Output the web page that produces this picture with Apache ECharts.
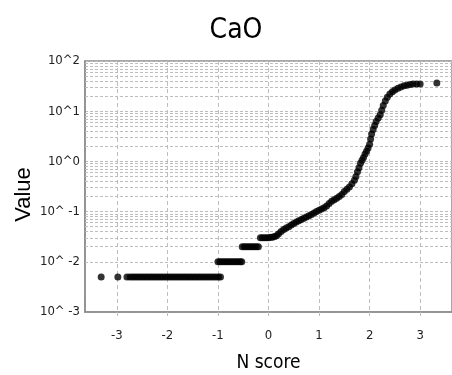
<!DOCTYPE html>
<html>
<head>
<meta charset="utf-8">
<script src="https://cdn.jsdelivr.net/npm/echarts@6/dist/echarts.min.js"></script>
<style>html,body{margin:0;padding:0;background:#fff}#c{width:452px;height:375px}</style>
</head>
<body>
<div id="c"></div>
<script>
// ---- data ----
const titleText = "CaO";
const xName = "N score";
const yName = "Value";
const yTickExponents = [-3, -2, -1, 0, 1, 2];
const yTickLabels = ["10^ -3", "10^ -2", "10^ -1", "10^0", "10^1", "10^2"];
const xTickValues = [-3, -2, -1, 0, 1, 2, 3];

// normal scores (x) and observed values (y)
const nScores = [
  -3.31, -2.98, -2.80,
  -2.74, -2.69, -2.64, -2.59, -2.54, -2.49, -2.44, -2.39, -2.34, -2.29, -2.24, -2.19, -2.14, -2.09,
  -2.04, -1.99, -1.94, -1.89, -1.84, -1.79, -1.74, -1.69, -1.64, -1.59, -1.54, -1.49, -1.44, -1.39,
  -1.34, -1.29, -1.24, -1.19, -1.14, -1.09, -1.04, -0.99, -0.95,
  -1.00, -0.96, -0.92, -0.88, -0.84, -0.80, -0.76, -0.72, -0.68, -0.64, -0.60, -0.56, -0.53,
  -0.52, -0.48, -0.44, -0.40, -0.36, -0.32, -0.28, -0.24, -0.20,
  -0.16, -0.12, -0.08, -0.04, 0.00, 0.04, 0.08, 0.12,
  0.16, 0.20, 0.25, 0.30, 0.35, 0.40, 0.45, 0.50, 0.55, 0.60, 0.65, 0.70, 0.75, 0.80, 0.85, 0.90,
  0.95, 1.00, 1.05, 1.10, 1.15, 1.20, 1.25, 1.30, 1.35, 1.40, 1.45, 1.50, 1.55, 1.60, 1.65, 1.70,
  1.73, 1.76, 1.79, 1.82, 1.85, 1.88, 1.91, 1.94, 1.97, 2.00, 2.02, 2.04, 2.07, 2.10, 2.13, 2.17,
  2.21, 2.24, 2.27, 2.31, 2.35, 2.40, 2.45, 2.50, 2.56, 2.62, 2.68, 2.74, 2.80, 2.86, 2.93, 3.00,
  3.33
];
const values = [
  0.005, 0.005, 0.005,
  0.005, 0.005, 0.005, 0.005, 0.005, 0.005, 0.005, 0.005, 0.005, 0.005, 0.005, 0.005, 0.005, 0.005,
  0.005, 0.005, 0.005, 0.005, 0.005, 0.005, 0.005, 0.005, 0.005, 0.005, 0.005, 0.005, 0.005, 0.005,
  0.005, 0.005, 0.005, 0.005, 0.005, 0.005, 0.005, 0.005, 0.005,
  0.010, 0.010, 0.010, 0.010, 0.010, 0.010, 0.010, 0.010, 0.010, 0.010, 0.010, 0.010, 0.010,
  0.020, 0.020, 0.020, 0.020, 0.020, 0.020, 0.020, 0.020, 0.020,
  0.030, 0.030, 0.030, 0.030, 0.030, 0.031, 0.031, 0.032,
  0.033, 0.036, 0.040, 0.044, 0.047, 0.050, 0.054, 0.058, 0.062, 0.066, 0.070, 0.074, 0.078, 0.083, 0.088, 0.094,
  0.100, 0.106, 0.113, 0.120, 0.130, 0.145, 0.160, 0.172, 0.185, 0.200, 0.220, 0.250, 0.280, 0.310, 0.360, 0.420,
  0.50, 0.62, 0.75, 0.92, 1.05, 1.2, 1.4, 1.6, 1.85, 2.2, 2.8, 3.5, 4.3, 5.2, 6.2, 7.3,
  8.5, 10.5, 13, 16, 19, 22, 24.5, 26.5, 28.5, 30.5, 32, 33, 34, 34.7, 35, 35,
  36.3
];

// ---- build chart ----
const points = nScores.map((n, i) => [n, values[i]]);

const narrow = "'Liberation Sans Narrow', 'DejaVu Sans Condensed', 'Liberation Sans', sans-serif";
const gridColor = '#bdbdbd';
const minorLines = [];
for (let e = yTickExponents[0]; e < yTickExponents[yTickExponents.length - 1]; e++) {
  for (let m = 2; m <= 9; m++) minorLines.push({ yAxis: m * Math.pow(10, e) });
}
const labelMap = {};
yTickExponents.forEach((e, i) => { labelMap[e] = yTickLabels[i]; });

const chart = echarts.init(document.getElementById('c'), null, { renderer: 'canvas' });
chart.setOption({
  animation: false,
  backgroundColor: '#fff',
  title: {
    text: titleText,
    left: 236, top: 17, padding: 0, textAlign: 'center',
    textStyle: { fontFamily: narrow, fontSize: 28, fontWeight: 'normal', color: '#000' }
  },
  grid: {
    left: 85, right: 0, top: 61, bottom: 63,
    outerBoundsMode: 'none', containLabel: false,
    show: true, borderColor: '#8c8c8c', borderWidth: 1.5, backgroundColor: 'transparent'
  },
  xAxis: {
    type: 'value',
    min: -3.63, max: 3.63,
    name: xName, nameLocation: 'middle', nameGap: 42, nameMoveOverlap: false,
    nameTextStyle: { fontFamily: narrow, fontSize: 19, color: '#000' },
    axisLine: { show: true, onZero: false, lineStyle: { color: '#8c8c8c', width: 1.5 } },
    axisTick: { show: true, length: 5, lineStyle: { color: gridColor, type: [4, 3] } },
    axisLabel: {
      showMinLabel: false, showMaxLabel: false, margin: 17,
      fontFamily: narrow, fontSize: 13, color: '#222',
      formatter: v => (xTickValues.indexOf(Math.round(v * 100) / 100) >= 0 ? String(v) : '')
    },
    splitLine: { show: true, lineStyle: { color: gridColor, type: [4, 3], width: 1 } }
  },
  yAxis: {
    type: 'log', logBase: 10,
    min: Math.pow(10, yTickExponents[0]), max: Math.pow(10, yTickExponents[yTickExponents.length - 1]),
    name: yName, nameLocation: 'middle', nameGap: 50, nameMoveOverlap: false,
    nameTextStyle: { fontFamily: 'Liberation Sans, sans-serif', fontSize: 22, color: '#000', padding: [0, 16, 0, 0] },
    axisLine: { show: true, onZero: false, lineStyle: { color: '#8c8c8c', width: 1.5 } },
    axisTick: { show: false },
    axisLabel: {
      margin: 5, fontFamily: narrow, fontSize: 13, color: '#222',
      formatter: v => { const e = Math.round(Math.log10(v)); return labelMap[e] !== undefined ? labelMap[e] : ''; }
    },
    splitLine: { show: true, lineStyle: { color: gridColor, type: [3, 2], width: 1 } }
  },
  series: [
    {
      type: 'scatter',
      data: [],
      silent: true,
      markLine: {
        silent: true, symbol: 'none', animation: false,
        label: { show: false },
        lineStyle: { color: gridColor, type: [3, 2], width: 1 },
        data: minorLines
      }
    },
    {
      type: 'scatter',
      data: points,
      symbol: 'circle',
      symbolSize: 7,
      itemStyle: { color: '#000' },
      z: 5
    }
  ]
});
</script>
</body>
</html>
